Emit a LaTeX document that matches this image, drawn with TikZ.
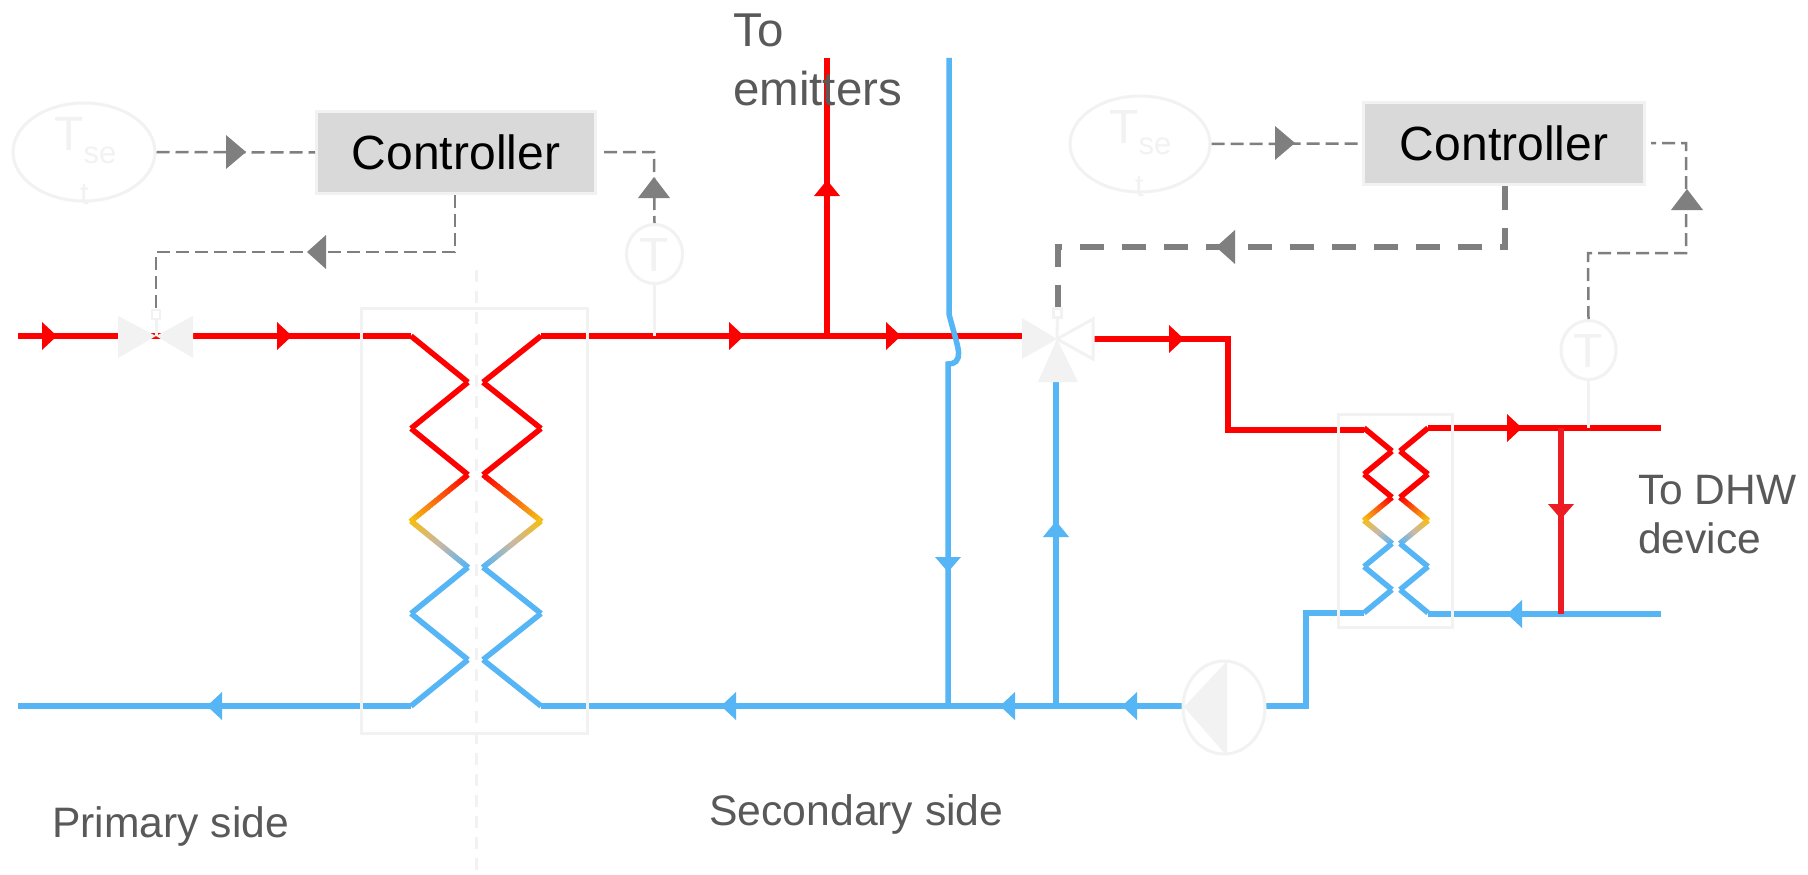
\documentclass[tikz,border=0pt]{standalone}
\usepackage{fontspec}
\setmainfont{Liberation Sans}
\usetikzlibrary{shapes.geometric}
\definecolor{pipered}{HTML}{FF0000}
\definecolor{pipeblue}{HTML}{55B5F5}
\definecolor{midyellow}{HTML}{F5BD17}
\definecolor{midgrey}{HTML}{C8B8A4}
\definecolor{ghost}{HTML}{F2F2F2}
\definecolor{signal}{HTML}{7F7F7F}
\definecolor{lbl}{HTML}{595959}
\definecolor{ctrlfill}{HTML}{D9D9D9}
\definecolor{shunt}{HTML}{ED1C24}
\tikzset{
  x=1pt,y=-1pt,
  redpipe/.style={draw=pipered,line width=5.5pt},
  bluepipe/.style={draw=pipeblue,line width=5.5pt},
  shuntpipe/.style={draw=shunt,line width=5.5pt},
  thinsig/.style={draw=signal,line width=2.5pt,dash pattern=on 13pt off 6pt},
  thicksig/.style={draw=signal,line width=6pt,dash pattern=on 24pt off 18pt},
  ghostline/.style={draw=ghost,line width=3pt},
  ghostdash/.style={draw=ghost,line width=3pt,dash pattern=on 12pt off 9pt},
  controller/.style={rectangle,draw=ghost,line width=3pt,fill=ctrlfill,text=black,inner sep=0pt,font=\fontsize{48}{57}\selectfont},
  sensorring/.style={ellipse,draw=ghost,line width=3pt,fill=white,inner sep=0pt},
  ghosttext/.style={text=ghost,inner sep=0pt,anchor=base west},
  labeltext/.style={text=lbl,inner sep=0pt,anchor=base west},
  actuator/.style={rectangle,draw=ghost,line width=2.5pt,fill=white,inner sep=0pt,minimum width=8pt,minimum height=9pt},
}
\newcommand{\arR}[3]{\fill[#3] (#1,#2-14) -- (#1+15,#2) -- (#1,#2+14) -- cycle;}
\newcommand{\arL}[3]{\fill[#3] (#1,#2-14) -- (#1-15,#2) -- (#1,#2+14) -- cycle;}
\newcommand{\arU}[3]{\fill[#3] (#1-13,#2) -- (#1,#2-16) -- (#1+13,#2) -- cycle;}
\newcommand{\arD}[3]{\fill[#3] (#1-13,#2) -- (#1,#2+15) -- (#1+13,#2) -- cycle;}
\newcommand{\sgR}[2]{\fill[signal] (#1,#2-17) -- (#1+20,#2) -- (#1,#2+17) -- cycle;}
\newcommand{\sgL}[2]{\fill[signal] (#1,#2-17) -- (#1-19,#2) -- (#1,#2+17) -- cycle;}
\newcommand{\sgU}[2]{\fill[signal] (#1-16,#2) -- (#1,#2-21) -- (#1+16,#2) -- cycle;}
\newcommand{\tsetlabel}[1]{T\raisebox{-#1pt}{\fontsize{31}{36}\selectfont se}}
% one side of a heat exchanger: outer x, inner x, first y, y step
\newcommand{\hxside}[4]{%
  \foreach \k/\c in {0/pipered,1/pipered,2/pipered,5/pipeblue,6/pipeblue,7/pipeblue}{%
    \pgfmathsetmacro{\xa}{mod(\k,2)==0 ? #1 : #2}%
    \pgfmathsetmacro{\xb}{mod(\k,2)==0 ? #2 : #1}%
    \draw[draw=\c,line width=5.5pt] (\xa,#3+\k*#4) -- (\xb,#3+\k*#4+#4);
  }%
  \hxgrad{#2}{#1}{#3+3*#4}{#3+4*#4}{pipered}{midyellow}%
  \hxgrad{#1}{(#1+#2)/2}{#3+4*#4}{#3+4.5*#4}{midyellow}{midgrey}%
  \hxgrad{(#1+#2)/2}{#2}{#3+4.5*#4}{#3+5*#4}{midgrey}{pipeblue}%
}
\newcommand{\hxgrad}[6]{%
  \foreach \s in {0,...,19}{%
    \pgfmathsetmacro{\pc}{100-\s*5.26}%
    \draw[draw={#5!\pc!#6},line width=5.5pt]
      ({#1+(#2-(#1))*\s/20},{#3+(#4-(#3))*\s/20}) -- ({#1+(#2-(#1))*(\s+1.25)/20},{#3+(#4-(#3))*(\s+1.25)/20});
  }%
}
\begin{document}
\begin{tikzpicture}
\useasboundingbox (0,0) rectangle (1808,875);
\fill[white] (0,0) rectangle (1808,875);

% named points of the pipework
\coordinate (inL) at (18,336);
\coordinate (hxAinL) at (411,336);
\coordinate (hxAoutR) at (541,336);
\coordinate (teeEm) at (827,336);
\coordinate (emTop) at (827,58);
\coordinate (v3L) at (1022,336);
\coordinate (v3R) at (1094,339);
\coordinate (bendA) at (1228,339);
\coordinate (bendB) at (1228,430);
\coordinate (hxBinL) at (1364,430);
\coordinate (hxBoutR) at (1428,428);
\coordinate (redEnd) at (1661,428);
\coordinate (blueEnd) at (1661,614);
\coordinate (hxBretR) at (1428,614);
\coordinate (hxBretL) at (1364,613);
\coordinate (bendC) at (1306,613);
\coordinate (bendD) at (1306,706);
\coordinate (pumpR) at (1265,706);
\coordinate (pumpL) at (1183,706);
\coordinate (hxAretR) at (541,706);
\coordinate (hxAretL) at (411,706);
\coordinate (outL) at (18,706);
\coordinate (byTop) at (949,58);
\coordinate (byA) at (949,314);
\coordinate (byB) at (948,364);
\coordinate (byFoot) at (948,706);
\coordinate (v3Foot) at (1056,706);
\coordinate (v3In) at (1056,382);
\coordinate (shTop) at (1561,428);
\coordinate (shFoot) at (1561,614);

% red pipes
\draw[redpipe] (inL) -- (hxAinL);
\draw[redpipe] (hxAoutR) -- (v3L);
\draw[redpipe] (teeEm) -- (emTop);
\draw[redpipe] (v3R) -- (bendA) -- (bendB) -- (hxBinL);
\draw[redpipe] (hxBoutR) -- (redEnd);
% blue pipes
\draw[bluepipe] (hxAretL) -- (outL);
\draw[bluepipe] (hxAretR) -- (pumpL);
\draw[bluepipe] (pumpR) -- (bendD) -- (bendC) -- (hxBretL);
\draw[bluepipe] (hxBretR) -- (blueEnd);
\draw[bluepipe] (byTop) -- (byA) .. controls (953,330) and (958,345) .. (958.5,352) .. controls (959,361) and (955,364) .. (byB) -- (byFoot);
\draw[bluepipe] (v3In) -- (v3Foot);
\draw[shuntpipe] (shTop) -- (shFoot);

% heat exchangers
\hxside{411}{468}{336}{46.25}
\hxside{541}{483}{336}{46.25}
\hxside{1364}{1392}{428}{23.1}
\hxside{1428}{1400}{428}{23.1}

% flow arrows
\arR{42}{336}{pipered}
\arR{277}{336}{pipered}
\arR{729}{336}{pipered}
\arR{886}{336}{pipered}
\arR{1169}{339}{pipered}
\arR{1507}{428}{pipered}
\arU{827}{196}{pipered}
\arD{1561}{504}{shunt}
\arD{948}{557}{pipeblue}
\arU{1056}{537}{pipeblue}
\arL{222}{706}{pipeblue}
\arL{736}{706}{pipeblue}
\arL{1015}{706}{pipeblue}
\arL{1137}{706}{pipeblue}
\arL{1522}{614}{pipeblue}

% frames of the exchangers and the boundary line
\coordinate (bndTop) at (476,270);
\coordinate (bndBot) at (476,875);
\draw[ghostdash] (bndTop) -- (bndBot);
\draw[ghostline] (361,308) rectangle (587,733);
\draw[ghostline] (1338,414) rectangle (1452,627);

% controllers
\node[controller,minimum width=279pt,minimum height=82pt] (ctrlA) at (456,152.5) {Controller};
\node[controller,minimum width=281pt,minimum height=82pt] (ctrlB) at (1504,143.5) {Controller};

% setpoint ellipses
\node[sensorring,minimum width=142pt,minimum height=98pt] (tsetA) at (84,152) {};
\node[sensorring,minimum width=140pt,minimum height=96pt] (tsetB) at (1140,144) {};
\node[ghosttext,font=\fontsize{48}{50}\selectfont] (tsetAT) at (54,150) {\tsetlabel{13}};
\node[ghosttext,font=\fontsize{31}{36}\selectfont] (tsetAt) at (80,204) {t};
\node[ghosttext,font=\fontsize{48}{50}\selectfont] (tsetBT) at (1109,143) {\tsetlabel{11}};
\node[ghosttext,font=\fontsize{31}{36}\selectfont] (tsetBt) at (1135,196) {t};

% temperature sensors
\node[sensorring,minimum width=56pt,minimum height=59pt] (sensA) at (654.5,254) {};
\node[sensorring,minimum width=55pt,minimum height=59pt] (sensB) at (1588.5,350) {};
\node[text=ghost,inner sep=0pt,font=\fontsize{48}{50}\selectfont] (sensAT) at (654.5,255) {T};
\node[text=ghost,inner sep=0pt,font=\fontsize{48}{50}\selectfont] (sensBT) at (1588.5,351) {T};
\coordinate (sensAfoot) at (654.5,336);
\coordinate (sensBfoot) at (1588.5,428);
\draw[ghostline] (sensA) -- (sensAfoot);
\draw[ghostline] (sensB) -- (sensBfoot);

% two-way valve
\coordinate (v2) at (156,336);
\fill[ghost] (v2) -- (118,316) -- (118,358) -- cycle;
\fill[ghost] (v2) -- (193,316) -- (193,358) -- cycle;
\node[actuator] (actA) at (156,314.5) {};
\draw[ghostline] (actA) -- (v2);

% three-way valve
\coordinate (v3) at (1057,339);
\fill[ghost] (v3) -- (1022,318) -- (1022,359) -- cycle;
\draw[ghostline,fill=white] (v3) -- (1093,319) -- (1093,359) -- cycle;
\fill[ghost] (v3) -- (1038,382) -- (1078,382) -- cycle;
\node[actuator] (actB) at (1057.5,313) {};
\draw[ghostline] (actB) -- (v3);

% pump
\node[sensorring,minimum width=82pt,minimum height=93pt] (pump) at (1224,707.5) {};
\fill[ghost] (1184,707) -- (1227,661) -- (1227,756) -- cycle;

% signal lines
\coordinate (a1) at (455,252);
\coordinate (a2) at (156,252);
\coordinate (a3) at (654,152);
\coordinate (a4) at (604,152);
\draw[thinsig] (tsetA.east) -- (ctrlA.west);
\draw[thinsig] (ctrlA.south -| a1) -- (a1) -- (a2) -- (actA.north);
\draw[thinsig] (a4) -- (a3) -- (sensA.north);
\sgR{226}{152}
\sgL{326}{252}
\sgU{654}{198}

\coordinate (b1) at (1505,247);
\coordinate (b2) at (1058,247);
\coordinate (b3) at (1588,253);
\coordinate (b4) at (1686,253);
\coordinate (b5) at (1686,143);
\coordinate (b6) at (1651,143);
\draw[thinsig] (tsetB.east) -- (ctrlB.west);
\draw[thicksig] (ctrlB.south -| b1) -- (b1) -- (b2) -- (actB.north -| b2);
\draw[thinsig] (sensB.north) -- (b3) -- (b4) -- (b5) -- (b6);
\sgR{1275}{143}
\sgL{1235}{247}
\sgU{1687}{210}

% labels
\node[labeltext,font=\fontsize{47.5}{57}\selectfont] (lblEmA) at (733,47) {To};
\node[labeltext,font=\fontsize{47.5}{57}\selectfont] (lblEmB) at (733,105) {emitters};
\node[labeltext,font=\fontsize{42.6}{50}\selectfont] (lblPri) at (52,837) {Primary side};
\node[labeltext,font=\fontsize{42.7}{50}\selectfont] (lblSec) at (709,825) {Secondary side};
\node[labeltext,font=\fontsize{42.5}{50}\selectfont] (lblDhwA) at (1638,504) {To DHW};
\node[labeltext,font=\fontsize{42.5}{50}\selectfont] (lblDhwB) at (1638,553) {device};
\end{tikzpicture}
\end{document}
